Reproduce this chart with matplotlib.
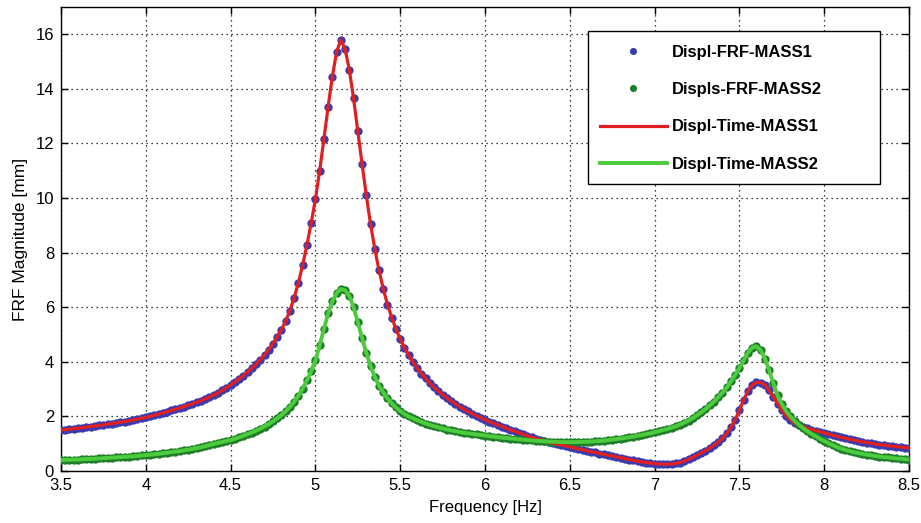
import numpy as np
import matplotlib
matplotlib.use('Agg')
import matplotlib.pyplot as plt
import matplotlib.patches as patches

matplotlib.rcParams['font.family'] = ['Liberation Sans', 'DejaVu Sans']

# frequency axis, 0.025 Hz steps
freq = np.linspace(3.5, 8.5, 201)

# displacement magnitude of mass 1 [mm]
mass1 = [
    1.50, 1.52, 1.53, 1.55, 1.57, 1.59, 1.61, 1.63, 1.65, 1.67,
    1.69, 1.72, 1.74, 1.76, 1.79, 1.81, 1.84, 1.87, 1.90, 1.93,
    1.97, 2.00, 2.04, 2.08, 2.13, 2.17, 2.22, 2.26, 2.31, 2.36,
    2.41, 2.46, 2.52, 2.58, 2.64, 2.71, 2.78, 2.86, 2.95, 3.05,
    3.15, 3.26, 3.37, 3.49, 3.62, 3.76, 3.91, 4.07, 4.25, 4.45,
    4.67, 4.92, 5.18, 5.50, 5.88, 6.35, 6.90, 7.55, 8.28, 9.08,
    9.95, 11.00, 12.15, 13.35, 14.45, 15.35, 15.80, 15.45, 14.70, 13.65,
    12.45, 11.25, 10.10, 9.05, 8.15, 7.35, 6.68, 6.10, 5.62, 5.20,
    4.84, 4.52, 4.24, 3.99, 3.77, 3.57, 3.39, 3.22, 3.07, 2.93,
    2.80, 2.68, 2.57, 2.46, 2.36, 2.27, 2.18, 2.10, 2.02, 1.95,
    1.88, 1.81, 1.75, 1.69, 1.63, 1.57, 1.51, 1.46, 1.40, 1.35,
    1.29, 1.24, 1.19, 1.14, 1.10, 1.06, 1.02, 0.99, 0.95, 0.92,
    0.88, 0.85, 0.81, 0.78, 0.74, 0.71, 0.68, 0.64, 0.61, 0.58,
    0.55, 0.52, 0.49, 0.45, 0.42, 0.39, 0.36, 0.33, 0.31, 0.29,
    0.27, 0.26, 0.25, 0.25, 0.26, 0.28, 0.31, 0.36, 0.43, 0.50,
    0.58, 0.66, 0.75, 0.84, 0.94, 1.06, 1.20, 1.38, 1.60, 1.88,
    2.22, 2.60, 2.93, 3.15, 3.25, 3.24, 3.16, 2.97, 2.72, 2.47,
    2.23, 2.03, 1.88, 1.77, 1.69, 1.62, 1.57, 1.52, 1.48, 1.44,
    1.40, 1.36, 1.31, 1.27, 1.23, 1.20, 1.16, 1.13, 1.10, 1.07,
    1.04, 1.02, 0.99, 0.97, 0.95, 0.93, 0.91, 0.89, 0.88, 0.86,
    0.85,
]

# displacement magnitude of mass 2 [mm]
mass2 = [
    0.40, 0.41, 0.41, 0.42, 0.42, 0.43, 0.44, 0.44, 0.45, 0.46,
    0.47, 0.48, 0.49, 0.50, 0.51, 0.52, 0.53, 0.54, 0.55, 0.57,
    0.58, 0.60, 0.61, 0.63, 0.65, 0.67, 0.69, 0.71, 0.73, 0.76,
    0.78, 0.81, 0.84, 0.87, 0.91, 0.95, 0.99, 1.03, 1.06, 1.10,
    1.13, 1.18, 1.23, 1.29, 1.35, 1.41, 1.48, 1.55, 1.63, 1.72,
    1.82, 1.93, 2.05, 2.19, 2.35, 2.54, 2.76, 3.02, 3.32, 3.66,
    4.05, 4.60, 5.20, 5.78, 6.22, 6.52, 6.67, 6.62, 6.42, 6.00,
    5.45, 4.88, 4.33, 3.85, 3.45, 3.12, 2.88, 2.66, 2.48, 2.33,
    2.20, 2.09, 2.00, 1.93, 1.86, 1.80, 1.74, 1.69, 1.64, 1.60,
    1.56, 1.52, 1.49, 1.46, 1.43, 1.40, 1.38, 1.36, 1.34, 1.32,
    1.30, 1.28, 1.26, 1.24, 1.22, 1.21, 1.19, 1.18, 1.16, 1.15,
    1.13, 1.12, 1.11, 1.10, 1.09, 1.08, 1.07, 1.07, 1.06, 1.06,
    1.06, 1.06, 1.06, 1.07, 1.07, 1.08, 1.09, 1.10, 1.11, 1.13,
    1.15, 1.17, 1.19, 1.21, 1.24, 1.26, 1.29, 1.32, 1.35, 1.38,
    1.42, 1.46, 1.50, 1.54, 1.59, 1.64, 1.70, 1.77, 1.85, 1.94,
    2.04, 2.15, 2.27, 2.40, 2.54, 2.70, 2.87, 3.06, 3.28, 3.52,
    3.78, 4.06, 4.33, 4.52, 4.57, 4.43, 4.12, 3.70, 3.22, 2.77,
    2.45, 2.20, 2.00, 1.84, 1.70, 1.57, 1.46, 1.36, 1.27, 1.18,
    1.10, 1.02, 0.95, 0.88, 0.82, 0.77, 0.73, 0.69, 0.66, 0.63,
    0.60, 0.58, 0.55, 0.53, 0.51, 0.50, 0.48, 0.46, 0.45, 0.44,
    0.42,
]

xticks = [3.5, 4, 4.5, 5, 5.5, 6, 6.5, 7, 7.5, 8, 8.5]
xticklabels = ['3.5', '4', '4.5', '5', '5.5', '6', '6.5', '7', '7.5', '8', '8.5']
yticks = [0, 2, 4, 6, 8, 10, 12, 14, 16]

labels = ['Displ-FRF-MASS1', 'Displs-FRF-MASS2', 'Displ-Time-MASS1', 'Displ-Time-MASS2']

W, H = 921, 523
fig = plt.figure(figsize=(W/100, H/100), dpi=100)
ax = fig.add_axes([61/W, 1-471/H, 848/W, 464/H])

ax.plot(freq, mass1, 'o', color='#3b3bb0', markersize=6, markeredgewidth=0, label=labels[0], zorder=3)
ax.plot(freq, mass2, 'o', color='#1f7d2a', markersize=6, markeredgewidth=0, label=labels[1], zorder=3)
ax.plot(freq, mass1, '-', color='#e02020', linewidth=2.3, label=labels[2], zorder=4)
ax.plot(freq, mass2, '-', color='#4ccc3c', linewidth=2.8, label=labels[3], zorder=4)

ax.set_xlim(3.5, 8.5)
ax.set_ylim(0, 17)
ax.set_xticks(xticks)
ax.set_xticklabels(xticklabels)
ax.set_yticks(yticks)
ax.tick_params(direction='in', top=True, right=True, length=5, width=1, labelsize=12, pad=5)
ax.grid(True, linestyle=(0, (1, 3)), color='black', linewidth=0.9)
for s in ax.spines.values():
    s.set_linewidth(1)

ax.set_xlabel('Frequency [Hz]', fontsize=12, labelpad=5)
ax.set_ylabel('FRF Magnitude [mm]', fontsize=12.5, labelpad=5)

# legend box drawn separately so it can be wider than the entries
def to_ax(px, py):
    return (px - 61) / 848, (471 - py) / 464

x0, y0 = to_ax(588, 184)
x1, y1 = to_ax(880, 31)
box = patches.Rectangle((x0, y0), x1 - x0, y1 - y0, transform=ax.transAxes,
                        facecolor='white', edgecolor='black', linewidth=1, zorder=5)
ax.add_patch(box)

leg = ax.legend(loc='upper left', bbox_to_anchor=to_ax(600, 45), frameon=False,
                prop={'weight': 'bold', 'size': 12}, borderpad=0, borderaxespad=0,
                handlelength=4.0, handletextpad=0.3, labelspacing=1.33,
                markerscale=0.85)
leg.set_zorder(6)

fig.savefig('out.png', dpi=100)
